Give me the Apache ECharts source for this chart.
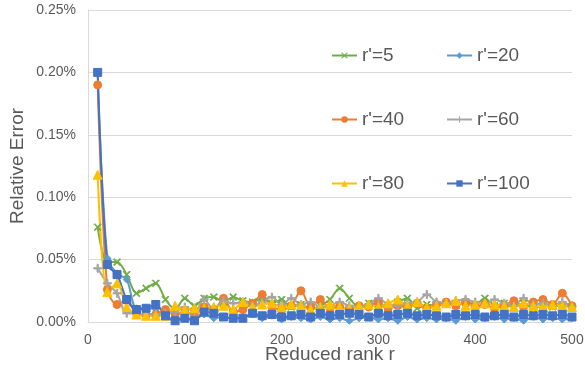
<!DOCTYPE html>
<html>
<head>
<meta charset="utf-8">
<script src="https://cdn.jsdelivr.net/npm/echarts@6/dist/echarts.min.js"></script>
<style>
  html, body { margin: 0; padding: 0; background: #fff; }
  #chart { width: 585px; height: 372px; }
</style>
</head>
<body>
<div id="chart"></div>
<script>
// reduced rank r, 10..500
const ranks = [10, 20, 30, 40, 50, 60, 70, 80, 90, 100,
  110, 120, 130, 140, 150, 160, 170, 180, 190, 200,
  210, 220, 230, 240, 250, 260, 270, 280, 290, 300,
  310, 320, 330, 340, 350, 360, 370, 380, 390, 400,
  410, 420, 430, 440, 450, 460, 470, 480, 490, 500];

// relative error in percent
const r5 = [0.076, 0.048, 0.048, 0.038, 0.023, 0.027, 0.031, 0.018, 0.010, 0.019,
  0.013, 0.019, 0.020, 0.016, 0.020, 0.017, 0.016, 0.019, 0.015, 0.018,
  0.012, 0.014, 0.010, 0.013, 0.018, 0.027, 0.019, 0.012, 0.015, 0.014,
  0.011, 0.016, 0.019, 0.011, 0.014, 0.013, 0.015, 0.013, 0.016, 0.014,
  0.019, 0.013, 0.015, 0.012, 0.015, 0.011, 0.013, 0.012, 0.014, 0.011];
const r20 = [0.199, 0.051, 0.039, 0.034, 0.011, 0.011, 0.010, 0.004, 0.002, 0.003,
  0.002, 0.006, 0.003, 0.004, 0.003, 0.004, 0.006, 0.003, 0.005, 0.002,
  0.004, 0.003, 0.002, 0.004, 0.002, 0.003, 0.001, 0.003, 0.004, 0.002,
  0.003, 0.001, 0.004, 0.002, 0.003, 0.002, 0.003, 0.001, 0.004, 0.002,
  0.003, 0.004, 0.002, 0.003, 0.001, 0.004, 0.002, 0.003, 0.002, 0.003];
const r40 = [0.190, 0.026, 0.014, 0.018, 0.007, 0.006, 0.006, 0.010, 0.006, 0.008,
  0.006, 0.012, 0.010, 0.019, 0.008, 0.010, 0.015, 0.022, 0.012, 0.010,
  0.013, 0.025, 0.012, 0.018, 0.011, 0.012, 0.010, 0.013, 0.012, 0.016,
  0.011, 0.013, 0.012, 0.015, 0.011, 0.014, 0.016, 0.013, 0.016, 0.012,
  0.014, 0.011, 0.013, 0.017, 0.012, 0.016, 0.018, 0.014, 0.023, 0.013];
const r60 = [0.043, 0.031, 0.023, 0.007, 0.007, 0.006, 0.006, 0.007, 0.008, 0.012,
  0.008, 0.018, 0.010, 0.017, 0.015, 0.016, 0.013, 0.016, 0.020, 0.014,
  0.019, 0.014, 0.016, 0.012, 0.013, 0.016, 0.013, 0.012, 0.014, 0.019,
  0.014, 0.013, 0.015, 0.016, 0.022, 0.016, 0.015, 0.017, 0.018, 0.016,
  0.014, 0.018, 0.015, 0.013, 0.019, 0.014, 0.015, 0.013, 0.016, 0.012];
const r80 = [0.118, 0.024, 0.031, 0.012, 0.006, 0.005, 0.005, 0.005, 0.013, 0.010,
  0.011, 0.011, 0.012, 0.013, 0.010, 0.016, 0.012, 0.014, 0.015, 0.012,
  0.014, 0.013, 0.010, 0.012, 0.014, 0.012, 0.011, 0.013, 0.014, 0.012,
  0.015, 0.018, 0.013, 0.016, 0.012, 0.013, 0.015, 0.017, 0.013, 0.014,
  0.015, 0.014, 0.013, 0.012, 0.015, 0.013, 0.012, 0.014, 0.013, 0.012];
const r100 = [0.200, 0.046, 0.038, 0.018, 0.010, 0.011, 0.014, 0.005, 0.001, 0.003,
  0.001, 0.008, 0.007, 0.004, 0.003, 0.003, 0.007, 0.005, 0.006, 0.004,
  0.005, 0.006, 0.004, 0.007, 0.005, 0.006, 0.007, 0.006, 0.004, 0.007,
  0.005, 0.006, 0.007, 0.005, 0.006, 0.005, 0.004, 0.006, 0.005, 0.006,
  0.004, 0.005, 0.006, 0.004, 0.006, 0.005, 0.006, 0.005, 0.006, 0.004];

const yTicks = [0, 0.05, 0.10, 0.15, 0.20, 0.25];

const crossPath = 'path://M0,1L1,0L5,4L9,0L10,1L6,5L10,9L9,10L5,6L1,10L0,9L4,5Z';
const plusPath = 'path://M4.2,0H5.8V4.2H10V5.8H5.8V10H4.2V5.8H0V4.2H4.2Z';

const seriesDefs = [
  { name: "r'=5", data: r5, color: '#70AD47', symbol: crossPath, size: 7 },
  { name: "r'=20", data: r20, color: '#5B9BD5', symbol: 'diamond', size: 7 },
  { name: "r'=40", data: r40, color: '#ED7D31', symbol: 'circle', size: 8 },
  { name: "r'=60", data: r60, color: '#A5A5A5', symbol: plusPath, size: 8 },
  { name: "r'=80", data: r80, color: '#FFC000', symbol: 'triangle', size: 9 },
  { name: "r'=100", data: r100, color: '#4472C4', symbol: 'rect', size: 8 }
];

const font = '"Liberation Sans", Arial, sans-serif';

const legendPos = [
  [326, 41], [441, 41],
  [326, 105], [441, 105],
  [326, 169], [441, 169]
];

const chart = echarts.init(document.getElementById('chart'));

chart.setOption({
  animation: false,
  backgroundColor: '#fff',
  grid: { left: 88, right: 13, top: 10, bottom: 50, outerBoundsMode: 'none' },
  legend: seriesDefs.map((s, i) => ({
    data: [s.name],
    left: legendPos[i][0],
    top: legendPos[i][1],
    itemWidth: 25,
    itemHeight: 8,
    itemGap: 3,
    textStyle: { fontFamily: font, fontSize: 19, color: '#595959' }
  })),
  xAxis: {
    type: 'value',
    min: 0,
    max: 500,
    interval: 100,
    name: 'Reduced rank r',
    nameLocation: 'middle',
    nameGap: 33,
    nameMoveOverlap: false,
    nameTextStyle: { fontFamily: font, fontSize: 19, color: '#595959', verticalAlign: 'middle' },
    axisLine: { lineStyle: { color: '#D9D9D9', width: 1 } },
    axisTick: { show: false },
    axisLabel: { fontFamily: font, fontSize: 14, color: '#595959', margin: 11 },
    splitLine: { show: false }
  },
  yAxis: {
    type: 'value',
    min: yTicks[0],
    max: yTicks[yTicks.length - 1],
    interval: 0.05,
    name: 'Relative Error',
    nameLocation: 'middle',
    nameGap: 70,
    nameMoveOverlap: false,
    nameTextStyle: { fontFamily: font, fontSize: 19, color: '#595959', verticalAlign: 'middle' },
    axisLine: { show: true, lineStyle: { color: '#D9D9D9', width: 1 } },
    axisTick: { show: false },
    axisLabel: {
      fontFamily: font, fontSize: 14, color: '#595959', margin: 12,
      formatter: v => v.toFixed(2) + '%'
    },
    splitLine: { lineStyle: { color: '#D9D9D9', width: 1 } }
  },
  series: seriesDefs.map(s => ({
    name: s.name,
    type: 'line',
    smooth: 0.3,
    data: ranks.map((r, i) => [r, s.data[i]]),
    symbol: s.symbol,
    symbolSize: s.size,
    showAllSymbol: true,
    lineStyle: { color: s.color, width: 2 },
    itemStyle: { color: s.color, borderColor: s.color },
    emphasis: { disabled: true }
  }))
});
</script>
</body>
</html>
